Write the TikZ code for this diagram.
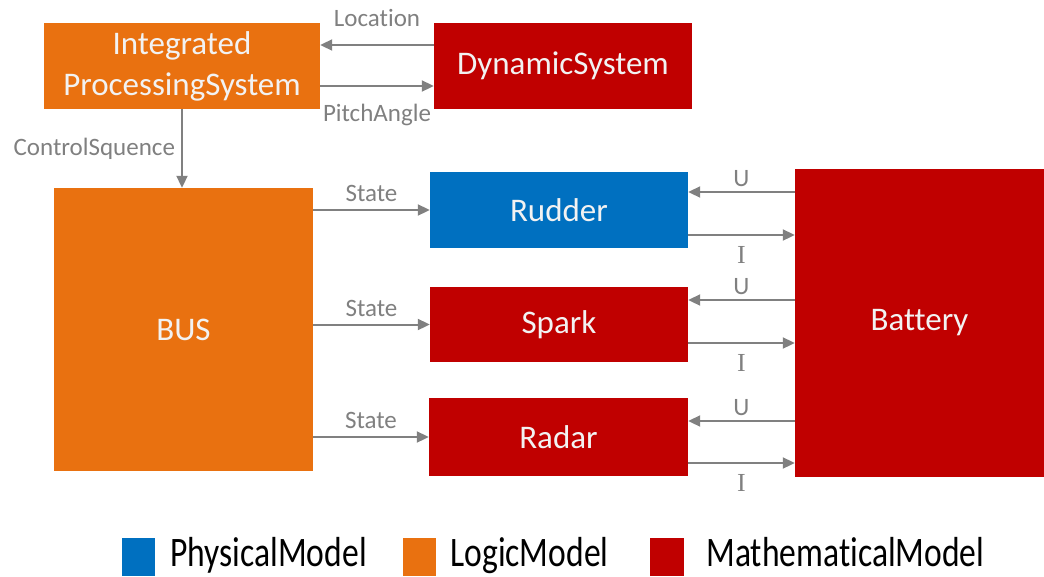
\documentclass[tikz,border=0pt]{standalone}
\usepackage{fontspec}
\setmainfont{Carlito}[Ligatures=NoCommon]
\newfontfamily\serfont{Liberation Serif}
\usetikzlibrary{arrows.meta, positioning}

\definecolor{logicorange}{RGB}{233,113,16}
\definecolor{mathred}{RGB}{192,0,0}
\definecolor{physblue}{RGB}{0,112,192}
\definecolor{flowgray}{RGB}{128,128,128}

\begin{document}
\begin{tikzpicture}[
    x=1pt,
    y=-1pt,
    >={Triangle[length=12pt,width=11pt]},
    block/.style={rectangle, inner sep=0pt, text=white!95!black,
        font=\fontsize{33}{41}\selectfont, align=center},
    logicbox/.style={block, fill=logicorange},
    mathbox/.style={block, fill=mathred},
    physbox/.style={block, fill=physblue},
    flow/.style={->, color=flowgray, line width=2pt},
    lbl/.style={text=flowgray, font=\fontsize{25}{30}\selectfont, inner sep=2pt},
    cur/.style={lbl, font=\fontsize{26}{30}\serfont},
    legsq/.style={rectangle, minimum width=33pt, minimum height=38pt, inner sep=0pt},
    legtext/.style={inner sep=0pt, text height=27pt, text depth=8pt,
        font=\fontsize{42}{48}\selectfont},
]
    \useasboundingbox (0,0) rectangle (1044,576);

    % blocks
    \node[logicbox, minimum width=276pt, minimum height=86pt]  (ips)     at (182,66)      {Integrated\\ProcessingSystem};
    \node[mathbox,  minimum width=258pt, minimum height=86pt]  (dyn)     at (563,66)      {DynamicSystem};
    \node[logicbox, minimum width=259pt, minimum height=283pt] (bus)     at (183.5,329.5) {BUS};
    \node[physbox,  minimum width=258pt, minimum height=76pt]  (rudder)  at (559,210)     {Rudder};
    \node[mathbox,  minimum width=258pt, minimum height=75pt]  (spark)   at (559,324.5)   {Spark};
    \node[mathbox,  minimum width=259pt, minimum height=78pt]  (radar)   at (558.5,437)   {Radar};
    \node[mathbox,  minimum width=249pt, minimum height=308pt] (battery) at (919.5,323)   {Battery};

    % signals
    \path[flow]
        ([yshift=21pt]dyn.west)  edge node[lbl, above=15pt] {Location}   ([yshift=21pt]ips.east)
        ([yshift=-20pt]ips.east) edge node[lbl, below=15pt] {PitchAngle} ([yshift=-20pt]dyn.west)
        (ips.south)              edge node[lbl, left=4pt]   {ControlSquence} (ips.south |- bus.north)
        (bus.east |- rudder.west) edge node[lbl, above=5pt] {State} (rudder.west)
        (bus.east |- spark.west)  edge node[lbl, above=5pt] {State} (spark.west)
        (bus.east |- radar.west)  edge node[lbl, above=5pt] {State} (radar.west)
    ;

    % supply
    \path[flow]
        ([yshift=18pt]rudder.east -| battery.west)   edge node[lbl, above=2pt] {U} ([yshift=18pt]rudder.east)
        ([yshift=-25pt]rudder.east)                  edge node[cur, below=8pt] {I} ([yshift=-25pt]rudder.east -| battery.west)
        ([yshift=24.5pt]spark.east -| battery.west)  edge node[lbl, above=2pt] {U} ([yshift=24.5pt]spark.east)
        ([yshift=-18.5pt]spark.east)                 edge node[cur, below=8pt] {I} ([yshift=-18.5pt]spark.east -| battery.west)
        ([yshift=16pt]radar.east -| battery.west)    edge node[lbl, above=2pt] {U} ([yshift=16pt]radar.east)
        ([yshift=-26pt]radar.east)                   edge node[cur, below=8pt] {I} ([yshift=-26pt]radar.east -| battery.west)
    ;

    % legend
    \node[legsq, fill=physblue]    (lphys)  at (138.5,557) {};
    \node[legtext, right=15pt of lphys]  (lphystext)  {\scalebox{0.8}[1]{PhysicalModel}};
    \node[legsq, fill=logicorange] (llogic) at (419.5,557) {};
    \node[legtext, right=14pt of llogic] (llogictext) {\scalebox{0.8}[1]{LogicModel}};
    \node[legsq, fill=mathred, minimum width=34pt] (lmath) at (667,557) {};
    \node[legtext, right=22pt of lmath]  (lmathtext)  {\scalebox{0.8}[1]{MathematicalModel}};
\end{tikzpicture}
\end{document}
